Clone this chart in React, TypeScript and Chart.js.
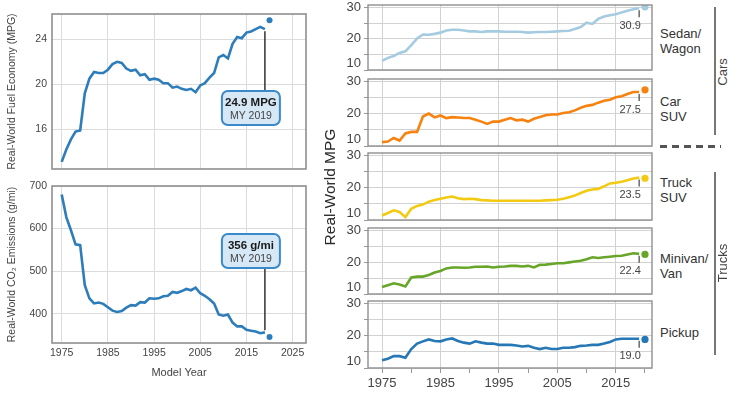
import React, { useEffect, useRef } from "react";
import { Chart, registerables } from "chart.js";

Chart.register(...registerables);

const FONT = '"Liberation Sans", Arial, Helvetica, sans-serif';
Chart.defaults.font.family = FONT;

// ---------- data ----------
const years = [
  1975, 1976, 1977, 1978, 1979, 1980, 1981, 1982, 1983, 1984,
  1985, 1986, 1987, 1988, 1989, 1990, 1991, 1992, 1993, 1994,
  1995, 1996, 1997, 1998, 1999, 2000, 2001, 2002, 2003, 2004,
  2005, 2006, 2007, 2008, 2009, 2010, 2011, 2012, 2013, 2014,
  2015, 2016, 2017, 2018, 2019,
];

const fuelEconomyMpg = [
  13.1, 14.2, 15.1, 15.8, 15.9, 19.2, 20.5, 21.1, 21.0, 21.0,
  21.3, 21.8, 22.0, 21.9, 21.4, 21.2, 21.3, 20.8, 20.9, 20.4,
  20.5, 20.4, 20.1, 20.1, 19.7, 19.8, 19.6, 19.5, 19.6, 19.3,
  19.9, 20.1, 20.6, 21.0, 22.4, 22.6, 22.3, 23.6, 24.2, 24.1,
  24.6, 24.7, 24.9, 25.1, 24.9,
];

const co2GramsPerMile = [
  680, 627, 596, 563, 561, 467, 436, 424, 426, 423,
  415, 407, 404, 406, 414, 420, 419, 427, 426, 436,
  435, 436, 441, 442, 451, 449, 453, 458, 455, 461,
  448, 442, 434, 424, 398, 395, 398, 379, 370, 370,
  362, 360, 358, 354, 356,
];

const prelimYear = 2020;
const prelimMpg = 25.7;
const prelimCo2 = 345;

const mpgCallout = ["24.9 MPG", "MY 2019"];
const co2Callout = ["356 g/mi", "MY 2019"];

const leftXTicks = [1975, 1985, 1995, 2005, 2015, 2025];
const mpgTicks = [16, 20, 24];
const co2Ticks = [400, 500, 600, 700];

const categoryLines = [["Sedan/", "Wagon"], ["Car", "SUV"], ["Truck", "SUV"], ["Minivan/", "Van"], ["Pickup"]];
const groupLabels = ["Cars", "Trucks"];
const rightAxisTitle = "Real-World MPG";

const sedanWagonMpg = [
  12.9, 13.9, 14.5, 15.5, 16.0, 18.0, 20.1, 21.4, 21.3, 21.6,
  22.0, 22.7, 22.9, 22.9, 22.7, 22.4, 22.4, 22.2, 22.4, 22.4,
  22.4, 22.3, 22.3, 22.3, 22.2, 22.0, 22.1, 22.2, 22.2, 22.3,
  22.4, 22.5, 22.6, 23.2, 23.8, 25.2, 24.8, 26.4, 27.2, 27.6,
  27.9, 28.5, 29.0, 29.5, 29.8,
];
const carSuvMpg = [
  11.2, 11.4, 12.5, 11.7, 13.9, 14.4, 14.4, 19.2, 20.1, 18.9,
  19.5, 18.7, 19.0, 18.9, 18.7, 18.7, 18.2, 17.6, 16.9, 17.6,
  17.6, 18.2, 18.7, 18.0, 18.2, 17.6, 18.5, 19.0, 19.6, 19.8,
  19.8, 20.3, 20.5, 21.1, 21.9, 22.5, 22.8, 23.5, 24.1, 24.4,
  25.2, 25.5, 26.2, 26.8, 26.8,
];
const truckSuvMpg = [
  11.4, 12.2, 13.0, 12.5, 10.9, 13.5, 14.4, 14.8, 15.7, 16.2,
  16.6, 17.0, 17.3, 16.8, 16.5, 16.6, 16.5, 16.2, 16.1, 16.0,
  16.0, 16.0, 16.0, 16.0, 16.0, 16.0, 16.0, 16.0, 16.1, 16.2,
  16.3, 16.6, 17.1, 17.6, 18.4, 19.1, 19.5, 19.7, 20.5, 21.4,
  21.6, 21.9, 22.4, 22.9, 23.2,
];
const minivanVanMpg = [
  12.2, 12.8, 13.4, 13.0, 12.4, 15.2, 15.5, 15.5, 16.0, 16.8,
  17.3, 18.1, 18.4, 18.4, 18.3, 18.4, 18.6, 18.6, 18.7, 18.4,
  18.6, 18.7, 18.9, 18.9, 18.7, 18.9, 18.4, 19.2, 19.3, 19.5,
  19.7, 19.7, 20.0, 20.3, 20.5, 21.0, 21.6, 21.4, 21.6, 21.8,
  22.0, 22.1, 22.5, 22.9, 22.7,
];
const pickupMpg = [
  12.4, 12.9, 13.7, 13.7, 13.2, 15.9, 17.6, 18.3, 18.9, 18.4,
  18.3, 18.9, 19.2, 18.4, 17.9, 17.6, 18.3, 17.9, 17.6, 17.6,
  17.2, 17.2, 17.2, 17.0, 16.7, 16.9, 16.3, 15.9, 16.3, 15.9,
  15.9, 16.3, 16.3, 16.5, 16.9, 17.0, 17.2, 17.2, 17.6, 18.1,
  18.9, 19.1, 19.1, 19.1, 19.1,
];
const typeSeries = [sedanWagonMpg, carSuvMpg, truckSuvMpg, minivanVanMpg, pickupMpg];
const prelimTypeMpg = [30.3, 27.5, 23.0, 22.5, 18.9];
const finalTypeLabels = ["30.9", "27.5", "23.5", "22.4", "19.0"];

const rightXTicks = [1975, 1980, 1985, 1990, 1995, 2000, 2005, 2010, 2015, 2020];
const rightXLabeled = [1975, 1985, 1995, 2005, 2015];
const rightYTicks = [10, 15, 20, 25, 30];
const rightYLabeled = [10, 20, 30];

// ---------- styles ----------
const LEFT_BLUE = "#2e7dbb";
const TYPE_COLORS = ["#a5cbe1", "#f7820f", "#f3ca12", "#68a62a", "#2677b5"];
const GRID_L = "#dcdcdc";
const GRID_R = "#d2d2d2";
const BOX = "#8f8f8f";
const TXT = "#444";

const pts = (xs: number[], ys: number[]) => xs.map((x, i) => ({ x, y: ys[i] }));

const boxPlugin = (color: string, lw: number) => ({
  id: "boxBorder",
  afterDraw(chart: any) {
    const { ctx, chartArea: a } = chart;
    ctx.save();
    ctx.strokeStyle = color;
    ctx.lineWidth = lw;
    ctx.strokeRect(a.left, a.top, a.right - a.left, a.bottom - a.top);
    ctx.restore();
  },
});

function roundRect(ctx: CanvasRenderingContext2D, x: number, y: number, w: number, h: number, r: number) {
  ctx.beginPath();
  ctx.moveTo(x + r, y);
  ctx.lineTo(x + w - r, y);
  ctx.arcTo(x + w, y, x + w, y + r, r);
  ctx.lineTo(x + w, y + h - r);
  ctx.arcTo(x + w, y + h, x + w - r, y + h, r);
  ctx.lineTo(x + r, y + h);
  ctx.arcTo(x, y + h, x, y + h - r, r);
  ctx.lineTo(x, y + r);
  ctx.arcTo(x, y, x + r, y, r);
  ctx.closePath();
}

const calloutPlugin = (lines: string[], boxTopOffset: number, below: boolean) => ({
  id: "callout",
  afterDatasetsDraw(chart: any) {
    const { ctx, chartArea } = chart;
    const meta = chart.getDatasetMeta(0);
    const pt = meta.data[meta.data.length - 1];
    const boxW = 58;
    const boxH = 34;
    const cx = pt.x - 14;
    const top = chartArea.top + boxTopOffset;
    ctx.save();
    ctx.strokeStyle = "#333";
    ctx.lineWidth = 1.5;
    ctx.beginPath();
    if (below) {
      ctx.moveTo(pt.x, pt.y + 2);
      ctx.lineTo(pt.x, top);
    } else {
      ctx.moveTo(pt.x, top + boxH);
      ctx.lineTo(pt.x, pt.y - 2);
    }
    ctx.stroke();
    roundRect(ctx, cx - boxW / 2, top, boxW, boxH, 6);
    ctx.fillStyle = "#d6e7f5";
    ctx.fill();
    ctx.strokeStyle = "#3a89c9";
    ctx.lineWidth = 2;
    ctx.stroke();
    ctx.textAlign = "center";
    ctx.textBaseline = "middle";
    ctx.fillStyle = "#1a1a1a";
    ctx.font = `bold 11.5px ${FONT}`;
    ctx.fillText(lines[0], cx, top + 11.5);
    ctx.fillStyle = "#444";
    ctx.font = `10.5px ${FONT}`;
    ctx.fillText(lines[1], cx, top + 25.5);
    ctx.restore();
  },
});

const endLabelPlugin = (label: string) => ({
  id: "endLabel",
  afterDatasetsDraw(chart: any) {
    const { ctx } = chart;
    const meta = chart.getDatasetMeta(0);
    const pt = meta.data[meta.data.length - 1];
    ctx.save();
    ctx.strokeStyle = "#444";
    ctx.lineWidth = 1.2;
    ctx.beginPath();
    ctx.moveTo(pt.x, pt.y + 2);
    ctx.lineTo(pt.x, pt.y + 9);
    ctx.stroke();
    ctx.fillStyle = "#444";
    ctx.font = `11px ${FONT}`;
    ctx.textAlign = "center";
    ctx.textBaseline = "top";
    ctx.fillText(label, pt.x - 9, pt.y + 12);
    ctx.restore();
  },
});

function setTicks(list: number[]) {
  return (s: any) => {
    s.ticks = list.map((v) => ({ value: v }));
  };
}

function fixSize(dim: "width" | "height", size: number) {
  return (s: any) => {
    s[dim] = size;
    s.paddingTop = 0;
    s.paddingBottom = 0;
    s.paddingLeft = 0;
    s.paddingRight = 0;
  };
}

// ---------- configs ----------
function leftConfig(isTop: boolean): any {
  const values = isTop ? fuelEconomyMpg : co2GramsPerMile;
  const prelim = isTop ? prelimMpg : prelimCo2;
  return {
    type: "line",
    data: {
      datasets: [
        { data: pts(years, values), borderColor: LEFT_BLUE, borderWidth: 2.6, pointRadius: 0, tension: 0 },
        { data: [{ x: prelimYear, y: prelim }], showLine: false, pointRadius: 3, backgroundColor: LEFT_BLUE, borderWidth: 0 },
      ],
    },
    options: {
      responsive: false,
      animation: false,
      events: [],
      layout: { padding: { top: isTop ? 14 : 6, right: 4, left: 0, bottom: 0 } },
      plugins: { legend: { display: false }, tooltip: { enabled: false } },
      scales: {
        x: {
          type: "linear",
          min: 1972.9,
          max: 2027.9,
          afterBuildTicks: setTicks(leftXTicks),
          afterFit: fixSize("height", isTop ? 7 : 50),
          ticks: { display: !isTop, color: TXT, font: { size: 10.5 }, padding: 4, maxRotation: 0, autoSkip: false, callback: (v: number) => String(v) },
          grid: { color: GRID_L, drawTicks: false },
          border: { display: false },
          title: { display: !isTop, text: "Model Year", color: TXT, font: { size: 11 }, padding: { top: 0, bottom: 13 } },
        },
        y: {
          type: "linear",
          min: isTop ? 12.47 : 331,
          max: isTop ? 26.25 : 700,
          afterBuildTicks: setTicks(isTop ? mpgTicks : co2Ticks),
          afterFit: fixSize("width", 52),
          ticks: { color: TXT, font: { size: 10.5 }, padding: 5 },
          grid: { color: GRID_L, drawTicks: false },
          border: { display: false },
          title: {
            display: true,
            text: isTop ? "Real-World Fuel Economy (MPG)" : "Real-World CO\u2082 Emissions (g/mi)",
            color: TXT,
            font: { size: 10.5 },
            padding: { top: 6, bottom: 0 },
          },
        },
      },
    },
    plugins: [boxPlugin(BOX, 1.6), isTop ? calloutPlugin(mpgCallout, 77, true) : calloutPlugin(co2Callout, 48, false)],
  };
}

function rightConfig(i: number, isBottom: boolean): any {
  const color = TYPE_COLORS[i];
  return {
    type: "line",
    data: {
      datasets: [
        { data: pts(years, typeSeries[i]), borderColor: color, borderWidth: 2.6, pointRadius: 0, tension: 0 },
        { data: [{ x: prelimYear, y: prelimTypeMpg[i] }], showLine: false, pointRadius: 3.6, backgroundColor: color, borderWidth: 0 },
      ],
    },
    options: {
      responsive: false,
      animation: false,
      events: [],
      layout: { padding: { top: 6, right: 4, left: 0, bottom: 0 } },
      plugins: { legend: { display: false }, tooltip: { enabled: false } },
      scales: {
        x: {
          type: "linear",
          min: 1972.6,
          max: 2021.2,
          afterBuildTicks: setTicks(rightXTicks),
          afterFit: fixSize("height", isBottom ? 25 : 6),
          ticks: {
            display: isBottom,
            color: TXT,
            font: { size: 13 },
            padding: 3,
            maxRotation: 0,
            autoSkip: false,
            callback: (v: number) => (rightXLabeled.includes(v) ? String(v) : ""),
          },
          grid: {
            color: (c: any) => (c.tick && rightXLabeled.includes(c.tick.value) ? GRID_R : "rgba(0,0,0,0)"),
            drawTicks: isBottom,
            tickLength: 5,
            tickColor: "#999",
          },
          border: { display: false },
        },
        y: {
          type: "linear",
          min: 10,
          max: 30.87,
          afterBuildTicks: setTicks(rightYTicks),
          afterFit: fixSize("width", 33),
          ticks: {
            color: TXT,
            font: { size: 13, lineHeight: 1.0 },
            padding: 3,
            autoSkip: false,
            callback: (v: number) => (rightYLabeled.includes(v) ? (v === 10 ? [String(v), ""] : String(v)) : ""),
          },
          grid: { color: GRID_R, drawTicks: true, tickLength: 4, tickColor: "#999" },
          border: { display: false },
        },
      },
    },
    plugins: [boxPlugin(BOX, 1.4), endLabelPlugin(finalTypeLabels[i])],
  };
}

function ChartCanvas({ left, top, width, height, config }: { left: number; top: number; width: number; height: number; config: () => any }) {
  const ref = useRef<HTMLCanvasElement | null>(null);
  useEffect(() => {
    const chart = new Chart(ref.current as HTMLCanvasElement, config());
    return () => chart.destroy();
  }, []);
  return (
    <div style={{ position: "absolute", left, top, width, height }}>
      <canvas ref={ref} width={width} height={height} style={{ width, height, display: "block" }} />
    </div>
  );
}

const panelTops = [5, 79, 153, 228, 301];
const panelBottoms = [70, 146, 220, 294, 368];
const labelTops = [26, 94, 175, 251, 325];

export default function App() {
  return (
    <div style={{ position: "fixed", left: 0, top: 0, width: 740, height: 393, background: "#fff", fontFamily: FONT, overflow: "hidden" }}>
      <ChartCanvas left={0} top={0} width={310} height={176} config={() => leftConfig(true)} />
      <ChartCanvas left={0} top={180} width={310} height={213} config={() => leftConfig(false)} />

      {panelTops.map((t, i) => {
        const isBottom = i === 4;
        const top = t - 6;
        const height = isBottom ? 393 - top : panelBottoms[i] - t + 12;
        return <ChartCanvas key={i} left={335} top={top} width={321} height={height} config={() => rightConfig(i, isBottom)} />;
      })}

      <div style={{ position: "absolute", left: 230, top: 177, width: 200, height: 20, lineHeight: "20px", textAlign: "center", fontSize: 15.5, color: "#2a2a2a", transform: "rotate(-90deg)", whiteSpace: "nowrap" }}>
        {rightAxisTitle}
      </div>

      {categoryLines.map((lines, i) => (
        <div key={i} style={{ position: "absolute", left: 660, top: labelTops[i], fontSize: 13, lineHeight: "15px", color: "#333", whiteSpace: "nowrap" }}>
          {lines.map((l, j) => (
            <div key={j}>{l}</div>
          ))}
        </div>
      ))}

      <div style={{ position: "absolute", left: 714, top: 7, width: 1.5, height: 128, background: "#777" }} />
      <div style={{ position: "absolute", left: 714, top: 172, width: 1.5, height: 183, background: "#777" }} />
      <div style={{ position: "absolute", left: 660, top: 145, width: 61, height: 3, background: "repeating-linear-gradient(to right, #555 0px, #555 7px, transparent 7px, transparent 12px)" }} />

      <div style={{ position: "absolute", left: 683, top: 63, width: 80, height: 18, lineHeight: "18px", textAlign: "center", fontSize: 13, color: "#444", transform: "rotate(-90deg)" }}>
        {groupLabels[0]}
      </div>
      <div style={{ position: "absolute", left: 683, top: 254, width: 80, height: 18, lineHeight: "18px", textAlign: "center", fontSize: 13, color: "#444", transform: "rotate(-90deg)" }}>
        {groupLabels[1]}
      </div>
    </div>
  );
}
